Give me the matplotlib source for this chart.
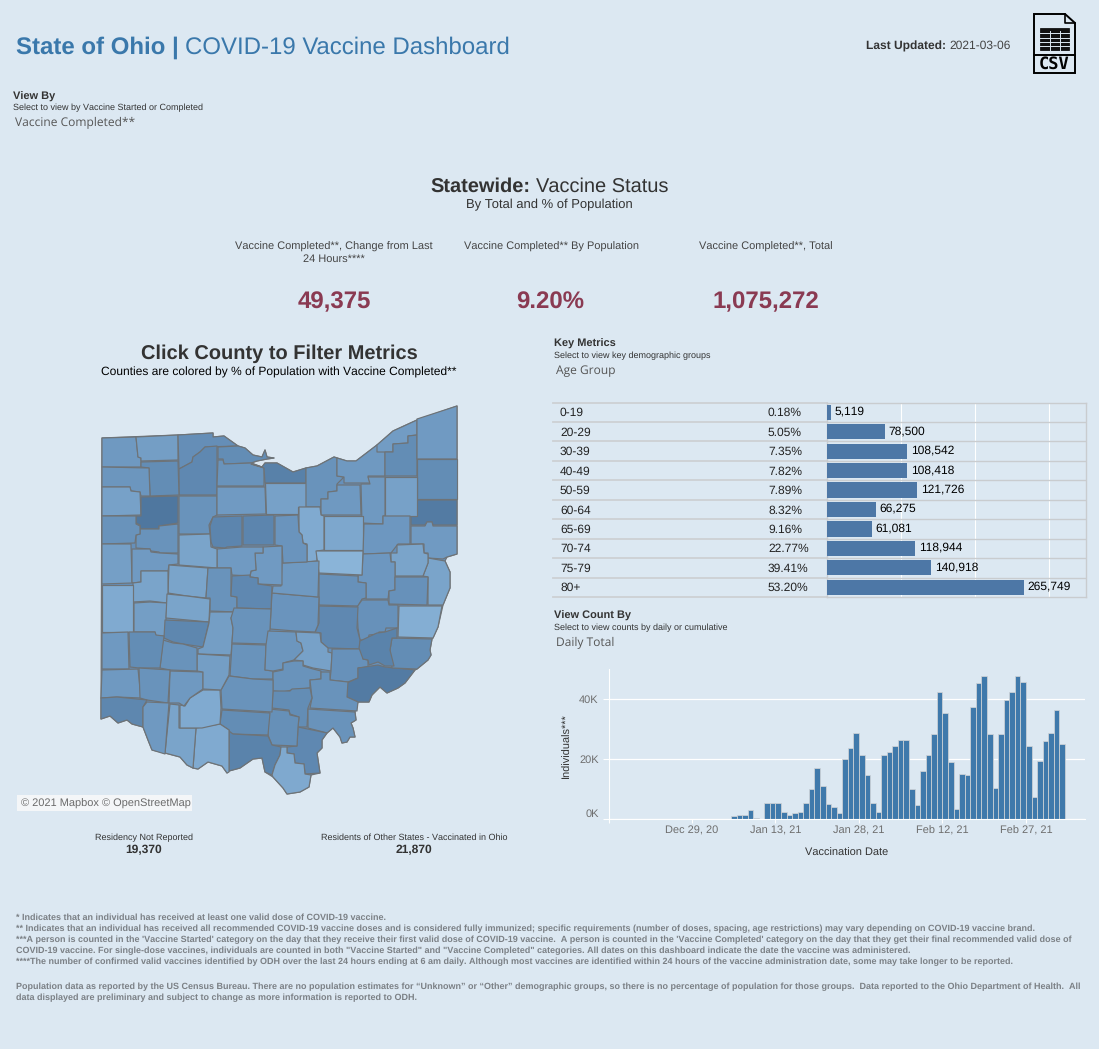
import datetime as dt

import matplotlib
matplotlib.use("Agg")
import matplotlib.dates as mdates
import matplotlib.pyplot as plt
from matplotlib.colors import LinearSegmentedColormap, Normalize
from matplotlib.patches import Polygon, Rectangle

W, H = 1099, 1049
BG = "#dce8f2"

# age group table
age_groups = ["0-19", "20-29", "30-39", "40-49", "50-59", "60-64", "65-69", "70-74", "75-79", "80+"]
age_pct = ["0.18%", "5.05%", "7.35%", "7.82%", "7.89%", "8.32%", "9.16%", "22.77%", "39.41%", "53.20%"]
age_counts = [5119, 78500, 108542, 108418, 121726, 66275, 61081, 118944, 140918, 265749]

# daily counts, one bar per day from first_day
first_day = dt.date(2021, 1, 5)
daily_counts = [900, 1500, 1200, 2900, 200, 0, 5200, 5500, 5200, 2200, 1500, 1900, 2200, 5500, 9900,
                16900, 10900, 4900, 3900, 1900, 19900, 23600, 28600, 21500, 14600, 5200, 2200,
                21200, 22500, 24500, 26200, 26500, 9900, 4600, 15900, 21500, 28200, 42200, 35200,
                18900, 3200, 14900, 14600, 37200, 45200, 47600, 28500, 10200, 28200, 39600, 42200,
                47600, 45600, 24200, 7200, 19200, 25900, 28600, 36200, 24900]
date_ticks = [dt.date(2020, 12, 29), dt.date(2021, 1, 13), dt.date(2021, 1, 28), dt.date(2021, 2, 12), dt.date(2021, 2, 27)]
date_labels = ["Dec 29, 20", "Jan 13, 21", "Jan 28, 21", "Feb 12, 21", "Feb 27, 21"]

# state silhouette, goes under the counties so no gaps show between them
state_outline = [(102,438),(178,435),(213,433),(213,437),(224,436),(238,446),(245,448),(253,455),(262,457),(265,450),
    (267,457),(274,458),(267,459),(257,461),(251,463),(262,467),(265,463),(277,463),(293,472),(306,468),(317,466),
    (334,457),(347,461),(356,461),(377,445),(393,431),(417,420),(457,406),(457,554),(447,557),(445,561),(450,572),
    (450,588),(443,605),(438,627),(433,638),(432,639),(430,650),(431,655),(428,660),(417,669),(415,670),(405,683),
    (398,688),(387,693),(380,687),(372,695),(369,702),(358,702),(355,712),(356,720),(351,723),(353,728),(355,737),
    (350,737),(347,742),(342,743),(340,737),(333,728),(327,733),(322,740),(322,748),(317,753),(320,773),(311,775),
    (309,787),(300,792),(287,794),(283,788),(273,777),(265,772),(262,758),(253,759),(240,768),(229,771),(227,773),
    (222,766),(208,762),(198,769),(193,768),(187,765),(180,757),(165,753),(152,750),(148,740),(143,727),(132,724),
    (127,720),(118,723),(110,716),(101,719)]

# county outlines, with the estimated % of population for the fill
county_shapes = [
    [(102,438),(136,437),(137,447),(138,457),(141,458),(141,467),(102,467)],
    [(136,437),(178,435),(178,460),(141,461),(141,458),(138,457),(137,447)],
    [(178,435),(213,433),(213,437),(224,436),(238,446),(205,447),(200,452),(193,457),(192,462),(179,469)],
    [(218,447),(238,446),(245,448),(253,455),(262,457),(265,450),(267,457),(274,458),(267,459),(257,461),(251,463),(224,464),(223,459),(218,459)],
    [(179,469),(192,462),(193,457),(200,452),(205,447),(217,446),(217,495),(179,495)],
    [(141,462),(178,461),(179,495),(150,496),(149,468),(141,467)],
    [(102,467),(149,468),(150,496),(141,496),(140,492),(131,491),(130,487),(102,487)],
    [(102,487),(130,487),(131,491),(140,492),(141,515),(102,516)],
    [(141,497),(178,496),(178,523),(159,526),(159,529),(140,529),(140,525),(136,523),(136,516),(141,516)],
    [(179,496),(217,496),(217,515),(213,517),(209,525),(210,534),(179,534)],
    [(218,460),(223,460),(224,464),(251,463),(264,468),(264,486),(217,486)],
    [(251,464),(262,467),(265,463),(277,463),(293,472),(306,468),(306,483),(265,483),(264,468)],
    [(217,487),(265,487),(266,514),(217,515)],
    [(265,483),(306,483),(306,507),(298,507),(298,514),(266,514)],
    [(306,468),(317,466),(334,457),(337,458),(337,476),(344,477),(337,484),(337,491),(328,492),(328,499),(321,499),(321,507),(306,507)],
    [(337,458),(347,461),(356,461),(377,445),(385,452),(385,476),(368,476),(370,483),(344,483),(344,477),(337,476)],
    [(377,445),(393,431),(417,420),(417,435),(408,436),(408,443),(393,444),(393,452),(377,452)],
    [(385,452),(393,452),(393,444),(408,443),(408,436),(417,435),(417,476),(385,476)],
    [(417,419),(457,406),(457,459),(417,459)],
    [(417,459),(457,459),(457,499),(417,499)],
    [(417,500),(457,500),(457,525),(433,525),(432,522),(427,522),(425,525),(411,525),(411,516),(417,516)],
    [(385,477),(417,477),(417,516),(385,516)],
    [(368,477),(385,477),(385,516),(383,516),(383,524),(362,523),(361,484),(370,484)],
    [(337,485),(360,485),(361,515),(321,515),(321,499),(328,499),(328,492),(337,491)],
    [(299,507),(320,507),(321,515),(324,516),(324,550),(317,551),(317,561),(307,562),(307,544),(303,543),(302,535),(299,532)],
    [(324,516),(363,516),(363,550),(324,550)],
    [(364,524),(383,524),(383,516),(410,516),(410,544),(398,544),(391,553),(363,554)],
    [(411,526),(425,526),(427,522),(432,522),(433,526),(457,526),(457,554),(447,557),(443,559),(428,558),(428,553),(424,553),(424,544),(411,544)],
    [(428,558),(445,561),(450,572),(450,588),(443,605),(428,605),(428,577),(423,576),(428,563)],
    [(391,553),(397,553),(397,545),(423,544),(424,553),(428,554),(428,563),(423,576),(395,576),(395,562),(391,562)],
    [(363,554),(390,553),(391,562),(395,562),(395,590),(389,591),(388,599),(366,599),(366,583),(358,582),(358,575),(362,575)],
    [(316,551),(363,551),(362,575),(319,573)],
    [(319,574),(358,576),(358,582),(366,583),(366,598),(362,599),(358,606),(319,605)],
    [(395,577),(428,577),(427,605),(389,604),(389,591),(395,590)],
    [(362,600),(388,600),(389,605),(398,605),(398,628),(386,628),(385,632),(379,632),(378,634),(369,635),(368,640),(360,640),(358,628),(357,607)],
    [(399,606),(442,606),(438,627),(433,638),(398,637)],
    [(319,606),(358,607),(357,628),(360,640),(360,649),(328,648),(321,642),(321,633),(315,632),(319,623)],
    [(272,593),(295,595),(319,597),(318,625),(315,632),(295,631),(270,629)],
    [(282,563),(319,561),(318,597),(295,595),(272,593),(273,586),(281,586)],
    [(275,516),(298,515),(299,532),(302,535),(303,543),(307,545),(307,562),(283,563),(282,546),(275,545)],
    [(255,553),(263,553),(263,547),(282,546),(282,585),(258,584),(258,578),(250,577),(251,571),(256,570)],
    [(243,516),(274,515),(274,545),(243,545)],
    [(213,517),(242,516),(242,546),(227,547),(225,548),(213,547),(211,542),(210,526)],
    [(217,549),(242,547),(263,547),(263,553),(255,553),(256,570),(251,571),(250,576),(232,575),(231,568),(217,568)],
    [(179,535),(210,534),(211,547),(217,549),(217,568),(179,565)],
    [(140,529),(159,529),(159,526),(178,524),(178,553),(160,553),(159,552),(151,551),(150,549),(136,548),(136,535),(140,534)],
    [(102,516),(136,516),(136,524),(140,526),(140,534),(136,535),(135,543),(102,544)],
    [(102,544),(131,544),(132,583),(102,584)],
    [(132,549),(150,549),(151,552),(160,553),(178,554),(178,564),(169,565),(168,571),(141,571),(141,582),(133,583),(132,582)],
    [(169,565),(208,568),(206,598),(187,596),(168,593)],
    [(208,568),(231,568),(231,596),(237,597),(237,612),(210,611),(210,598),(206,598)],
    [(232,576),(250,575),(250,577),(258,578),(258,584),(272,586),(271,609),(237,608),(237,597),(231,596)],
    [(141,571),(168,571),(168,593),(167,603),(150,601),(133,602),(133,583),(141,582)],
    [(102,585),(133,585),(133,632),(102,632)],
    [(134,603),(150,602),(167,603),(165,636),(156,636),(155,632),(134,632)],
    [(167,594),(187,596),(210,599),(209,622),(166,618)],
    [(165,620),(209,622),(203,647),(183,644),(173,642),(164,638)],
    [(210,612),(234,612),(231,618),(233,628),(232,643),(231,655),(198,654),(198,649),(203,647),(209,623)],
    [(234,608),(271,609),(270,629),(268,644),(232,643),(233,628),(231,618)],
    [(232,644),(266,645),(265,670),(273,671),(273,679),(253,679),(230,676)],
    [(268,631),(296,632),(297,641),(301,643),(303,651),(294,660),(283,663),(283,669),(273,671),(265,670),(266,645)],
    [(296,632),(320,633),(321,642),(328,648),(328,652),(332,653),(331,671),(313,668),(303,665),(303,661),(294,660),(303,651),(301,643),(297,641)],
    [(332,649),(362,649),(363,659),(368,660),(368,667),(358,668),(358,678),(348,682),(330,680),(331,671),(332,653)],
    [(358,668),(378,665),(385,667),(405,669),(415,670),(405,683),(398,688),(387,693),(380,687),(372,695),(369,702),(358,702),(347,697),(347,683),(358,678)],
    [(392,638),(432,639),(430,650),(431,655),(428,660),(417,669),(392,668),(390,650)],
    [(360,641),(377,633),(385,632),(397,628),(397,638),(392,638),(390,650),(394,666),(385,666),(378,662),(369,665),(368,660),(363,659),(359,648)],
    [(273,672),(283,670),(283,663),(294,661),(303,661),(303,666),(313,669),(321,671),(321,679),(310,680),(310,688),(292,690),(283,692),(273,691)],
    [(321,672),(330,672),(330,680),(348,682),(347,697),(358,702),(357,711),(310,708),(312,698),(310,680),(321,679)],
    [(273,691),(290,691),(292,689),(310,688),(312,698),(308,708),(307,727),(298,727),(299,717),(290,714),(289,710),(272,708)],
    [(308,709),(355,712),(356,720),(351,723),(353,728),(355,737),(350,737),(347,742),(342,743),(340,737),(333,728),(327,733),(308,728)],
    [(298,727),(327,733),(322,740),(322,748),(317,753),(320,773),(305,774),(304,764),(295,763),(294,754),(287,753),(287,747),(297,746)],
    [(269,709),(289,711),(290,715),(299,717),(298,727),(297,746),(272,745),(268,735)],
    [(229,676),(253,679),(273,680),(273,691),(272,712),(222,709),(221,690)],
    [(222,710),(270,713),(268,735),(230,734),(229,730),(220,724)],
    [(229,731),(233,734),(268,736),(272,745),(281,747),(280,755),(275,765),(272,775),(265,772),(262,758),(253,759),(240,768),(229,771)],
    [(281,747),(287,747),(287,753),(294,754),(295,763),(304,764),(305,774),(311,775),(309,787),(300,792),(287,794),(283,788),(273,777),(272,775),(275,765),(280,755)],
    [(196,728),(220,724),(229,730),(229,772),(227,773),(222,766),(208,762),(198,769),(193,768)],
    [(170,704),(179,705),(179,728),(196,728),(193,768),(187,765),(180,757),(165,753)],
    [(203,690),(220,690),(221,708),(220,724),(202,728),(180,728),(180,705),(185,706),(190,698)],
    [(170,671),(203,672),(203,689),(190,698),(184,706),(179,703),(169,703)],
    [(197,654),(230,656),(229,675),(221,690),(203,689),(203,672),(197,671)],
    [(163,640),(173,643),(183,644),(197,648),(197,671),(170,670),(160,668)],
    [(129,632),(155,632),(156,635),(164,636),(160,668),(139,668),(130,667)],
    [(102,633),(128,632),(129,669),(102,669)],
    [(102,670),(138,669),(141,698),(117,697),(101,698)],
    [(139,668),(170,670),(168,703),(147,700),(140,698)],
    [(101,698),(117,697),(147,700),(143,707),(143,727),(132,724),(127,720),(118,723),(110,716),(101,719)],
    [(147,702),(169,703),(165,754),(152,750),(148,740),(143,727),(143,707)],
]
county_pct = [
    9.7, 9.4, 10.4, 10.5, 10.8, 10.5, 9.9, 9.2, 12.0, 10.1,
    10.1, 11.3, 9.6, 9.2, 10.1, 9.7, 9.5, 10.5, 9.6, 10.5,
    11.7, 9.2, 9.7, 9.7, 8.6, 8.8, 9.8, 9.6, 9.0, 9.0,
    9.8, 8.0, 10.2, 10.2, 10.2, 8.4, 10.8, 10.0, 9.7, 10.0,
    9.6, 11.0, 11.0, 9.6, 9.0, 10.1, 10.1, 9.3, 9.6, 9.0,
    10.1, 10.8, 9.0, 8.6, 9.4, 9.0, 10.9, 9.4, 10.1, 10.1,
    9.9, 9.2, 10.2, 11.7, 10.5, 11.2, 10.1, 10.1, 10.5, 10.1,
    10.8, 10.3, 10.1, 10.5, 11.2, 8.7, 8.6, 9.0, 8.6, 9.7,
    9.4, 10.1, 10.5, 9.7, 9.7, 10.1, 10.9, 9.7,
]

footer_notes = [
    "* Indicates that an individual has received at least one valid dose of COVID-19 vaccine.",
    "** Indicates that an individual has received all recommended COVID-19 vaccine doses and is considered fully immunized; specific requirements (number of doses, spacing, age restrictions) may vary depending on COVID-19 vaccine brand.",
    "***A person is counted in the 'Vaccine Started' category on the day that they receive their first valid dose of COVID-19 vaccine.  A person is counted in the 'Vaccine Completed' category on the day that they get their final recommended valid dose of",
    "COVID-19 vaccine. For single-dose vaccines, individuals are counted in both \"Vaccine Started\" and \"Vaccine Completed\" categories. All dates on this dashboard indicate the date the vaccine was administered.",
    "****The number of confirmed valid vaccines identified by ODH over the last 24 hours ending at 6 am daily. Although most vaccines are identified within 24 hours of the vaccine administration date, some may take longer to be reported.",
]
footer_y = [917, 928, 939, 950, 961]
footer_pop = [
    "Population data as reported by the US Census Bureau. There are no population estimates for \u201cUnknown\u201d or \u201cOther\u201d demographic groups, so there is no percentage of population for those groups.  Data reported to the Ohio Department of Health.  All",
    "data displayed are preliminary and subject to change as more information is reported to ODH.",
]
footer_pop_y = [986, 997]

plt.rcParams["font.family"] = ["Liberation Sans", "DejaVu Sans"]
plt.rcParams["text.hinting"] = "none"
plt.rcParams["text.hinting_factor"] = 1

fig = plt.figure(figsize=(W / 100, H / 100), dpi=100, facecolor=BG)

# whole page in pixel coordinates, y going down
page = fig.add_axes([0, 0, 1, 1])
page.set_xlim(0, W)
page.set_ylim(H, 0)
page.axis("off")


def txt(x, y, s, size=8, color="#333333", weight="normal", ha="left", **kw):
    # va center sits a little high against the reference, so push down with size
    return page.text(x, y + size * 0.1, s, fontsize=size, color=color, fontweight=weight, ha=ha, va="center", **kw)


def px_axes(left, top, right, bottom):
    return fig.add_axes([left / W, 1 - bottom / H, (right - left) / W, (bottom - top) / H], facecolor="none")


# header
TITLE = "#3a78ab"
txt(16, 46, "State of Ohio |", 17.3, TITLE, "bold")
txt(185, 46, "COVID-19 Vaccine Dashboard", 17.3, TITLE)
txt(866, 46, "Last Updated:", 8.3, "#333333", "bold")
txt(949, 45, "2021-03-06", 8.5, "#444444")

# csv icon
page.add_patch(Polygon([(1034, 14), (1065, 14), (1075, 23), (1075, 73), (1034, 73)], fc="none", ec="black", lw=1.4))
page.plot([1065, 1065, 1075], [14, 23, 23], color="black", lw=1.2)
page.plot([1034, 1075], [55, 55], color="black", lw=1.4)
page.add_patch(Rectangle((1040, 28), 29, 22, fc="#111111", ec="black", lw=0.5))
for gx in [1049.5, 1059.5]:
    page.plot([gx, gx], [31, 50], color=BG, lw=0.7)
for gy in [33, 37.5, 42, 46]:
    page.plot([1040, 1069], [gy, gy], color=BG, lw=0.7)
page.text(1054.5, 64.5, "CSV", fontsize=12, family="DejaVu Sans Mono", fontweight="bold", color="black", ha="center", va="center")

# view by control
txt(13, 96, "View By", 8.2, "#333333", "bold")
txt(13, 107, "Select to view by Vaccine Started or Completed", 6.4)
txt(15, 122, "Vaccine Completed**", 8.3, "#555555", family="Open Sans")

# kpis
txt(430, 185, "Statewide:", 14.4, "#333333", "bold")
txt(536, 185, "Vaccine Status", 14.4)
txt(549, 204, "By Total and % of Population", 9.3, ha="center")
txt(334, 252, "Vaccine Completed**, Change from Last\n24 Hours****", 7.9, "#444444", ha="center", linespacing=1.2)
txt(551, 246, "Vaccine Completed** By Population", 7.9, "#444444", ha="center")
txt(766, 246, "Vaccine Completed**, Total", 7.9, "#444444", ha="center")
KPI = "#8a3a52"
txt(334, 300, "49,375", 17.3, KPI, "bold", ha="center")
txt(550, 301, "9.20%", 17.3, KPI, "bold", ha="center")
txt(766, 300, "1,075,272", 17.3, KPI, "bold", ha="center")

# map
txt(279, 352, "Click County to Filter Metrics", 14.4, "#333333", "bold", ha="center")
txt(279, 372, "Counties are colored by % of Population with Vaccine Completed**", 8.6, "black", ha="center")
cmap = LinearSegmentedColormap.from_list("blues_county", ["#8ab4d8", "#6a94bd", "#4f779f"])
norm = Normalize(8, 12)
page.add_patch(Polygon(state_outline, closed=True, fc="#6690ba", ec="#6e7377", lw=0.9, joinstyle="round"))
for shape, pct in zip(county_shapes, county_pct):
    page.add_patch(Polygon(shape, closed=True, fc=cmap(norm(pct)), ec="#6e7377", lw=0.85, joinstyle="round"))
page.add_patch(Rectangle((17, 795), 175, 16, fc="#f4f6f8", ec="none"))
txt(21, 803, "\u00a9 2021 Mapbox \u00a9 OpenStreetMap", 7.9, "#6b6b6b")
txt(144, 837, "Residency Not Reported", 6.6, ha="center")
txt(144, 849, "19,370", 8.6, "#333333", "bold", ha="center")
txt(414, 837, "Residents of Other States - Vaccinated in Ohio", 6.6, ha="center")
txt(414, 849, "21,870", 8.6, "#333333", "bold", ha="center")

# key metrics
txt(554, 343, "Key Metrics", 8.2, "#333333", "bold")
txt(554, 355, "Select to view key demographic groups", 6.4)
txt(556, 370, "Age Group", 8.3, "#555555", family="Open Sans")

TOP, ROW = 402.5, 19.45
ax_age = px_axes(827, TOP, 1086, TOP + ROW * 10)
ax_age.set_xlim(0, 349500)
ax_age.set_ylim(9.5, -0.5)
ax_age.barh(range(10), age_counts, height=0.78, color="#4d77a6", zorder=3)
ax_age.set_xticks([100000, 200000, 300000])
ax_age.set_yticks([])
ax_age.grid(axis="x", color="white", lw=0.8, zorder=0)
ax_age.tick_params(length=0, labelleft=False, labelbottom=False)
for s in ax_age.spines.values():
    s.set_color("#c9cccf")
    s.set_linewidth(1)
for i in range(1, 10):
    ax_age.axhline(i - 0.5, color="#c9cccf", lw=1, zorder=2)
for i, (grp, pct, n) in enumerate(zip(age_groups, age_pct, age_counts)):
    yc = TOP + ROW * (i + 0.5)
    txt(560, yc, grp, 8.5, "#222222")
    txt(768, yc, pct, 8.5, "#222222")
    ax_age.annotate(f"{n:,}", (n, i), xytext=(2.5, 0.5), textcoords="offset points", va="center", fontsize=8.6, color="black", zorder=4)
for i in range(11):
    page.plot([553, 827], [TOP + ROW * i] * 2, color="#cdd0d3", lw=1.3)

# view count
txt(554, 615, "View Count By", 8.2, "#333333", "bold")
txt(554, 627, "Select to view counts by daily or cumulative", 6.4)
txt(556, 642, "Daily Total", 8.3, "#555555", family="Open Sans")

ax_day = px_axes(608.5, 669, 1085, 819)
d0 = mdates.date2num(date_ticks[0])
ax_day.set_xlim(d0 - 83.1 / 5.57, d0 + 393.3 / 5.57)
ax_day.set_ylim(0, 50000)
days = [mdates.date2num(first_day) + i + 0.5 for i in range(len(daily_counts))]
ax_day.bar(days, daily_counts, width=1, color="#3f79ab", ec="#cfd3d6", lw=0.55, zorder=3)
ax_day.set_xticks([d0 - 15] + [mdates.date2num(d) for d in date_ticks])
ax_day.set_xticklabels([""] + date_labels, fontsize=8, color="#6e6e6e")
ax_day.set_yticks([0, 20000, 40000])
ax_day.set_yticklabels(["0K", "20K", "40K"], fontsize=8, color="#6e6e6e")
ax_day.get_yticklabels()[0].set_verticalalignment("bottom")
ax_day.tick_params(axis="x", color="white", length=3, pad=2)
ax_day.tick_params(axis="y", color="white", length=4, pad=3)
ax_day.grid(axis="y", color="white", lw=0.9, zorder=1)
for name in ["top", "right"]:
    ax_day.spines[name].set_visible(False)
ax_day.spines["left"].set_color("white")
ax_day.spines["bottom"].set_color("white")
ax_day.spines["bottom"].set_zorder(5)
txt(847, 852, "Vaccination Date", 8, "#333333", ha="center")
txt(567, 745, "Individuals***", 8, "#333333", ha="center", rotation=90)

# footnotes
for s, y in zip(footer_notes + footer_pop, footer_y + footer_pop_y):
    txt(16, y, s, 6.4, "#7b8085", "bold")

fig.savefig("out.png", dpi=100, facecolor=BG)
